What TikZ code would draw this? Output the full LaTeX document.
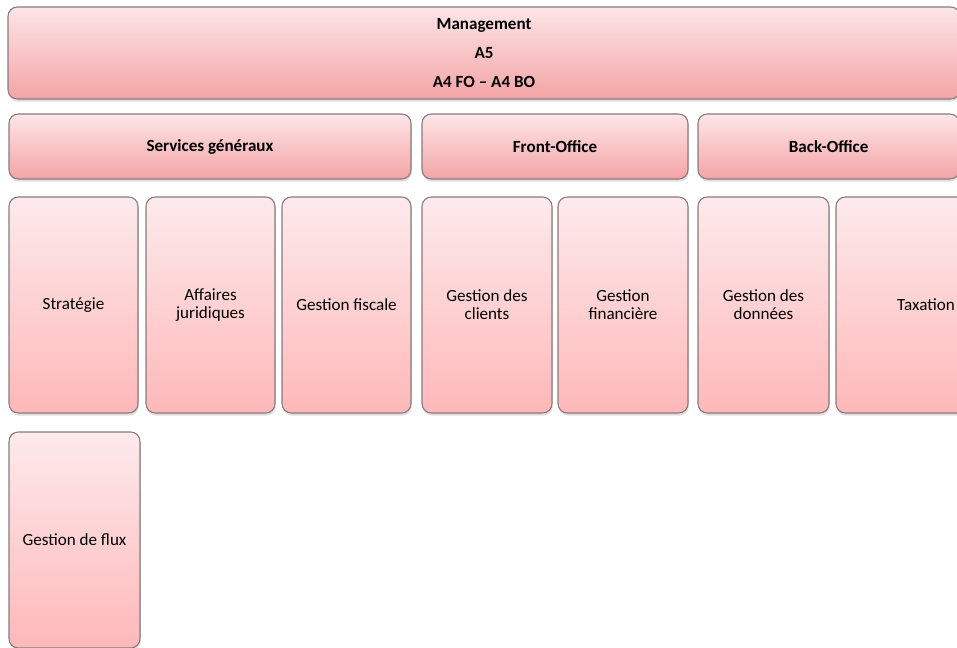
\documentclass[tikz,border=0pt]{standalone}
\usepackage{fontspec}
\setmainfont{Carlito}
\usetikzlibrary{positioning,shadows}
\definecolor{pinktop}{RGB}{253,229,231}
\definecolor{pinkbot}{RGB}{244,164,166}
\definecolor{tasktop}{RGB}{253,234,236}
\definecolor{taskbot}{RGB}{254,184,185}
\definecolor{rimgray}{RGB}{138,122,124}
\tikzset{
  unit/.style={draw=rimgray, line width=0.8pt, rounded corners=7pt, outer sep=0pt,
    top color=pinktop, bottom color=pinkbot,
    drop shadow={opacity=0.25, shadow xshift=0.6pt, shadow yshift=-2pt},
    align=center, inner sep=2pt, font=\fontsize{12.8}{13.5}\selectfont},
  head/.style={unit, font=\fontsize{12.8}{13.5}\selectfont\bfseries, minimum height=48.75pt},
  task/.style={unit, top color=tasktop, bottom color=taskbot, minimum height=162pt}
}
\begin{document}
\begin{tikzpicture}
  \path[use as bounding box, clip] (0,0) rectangle (717.75pt,-486pt);
  \node(mgmt)[unit, font=\fontsize{12.8}{13.5}\selectfont\bfseries, anchor=north west,
    minimum width=714pt, minimum height=69pt] at (6pt,-5.25pt)
    {Management\\[8.5pt]A5\\[8.5pt]A4 FO -- A4 BO};
  \node(serv)[head, anchor=north west, minimum width=301.5pt] at (6.75pt,-85.5pt) {Services généraux};
  \node(front)[head, right=8.25pt of serv, minimum width=199.5pt] {Front-Office};
  \node(back)[head, right=7.5pt of front, minimum width=196pt] {Back-Office};
  \node(strat)[task, anchor=north west, minimum width=96.75pt] at (6.75pt,-147.75pt) {Stratégie};
  \node(jur)[task, right=6pt of strat, minimum width=96.75pt] {Affaires\\juridiques};
  \node(fisc)[task, right=5.25pt of jur, minimum width=96.75pt] {Gestion fiscale};
  \node(cli)[task, right=8.25pt of fisc, minimum width=97.5pt] {Gestion des\\clients};
  \node(fin)[task, right=4.5pt of cli, minimum width=97.5pt] {Gestion\\financière};
  \node(don)[task, right=7.5pt of fin, minimum width=98.25pt] {Gestion des\\données};
  \node(tax)[task, right=5.25pt of don, minimum width=135pt] {Taxation};
  \node(flux)[task, anchor=north west, minimum width=98.25pt] at (6.75pt,-324pt) {Gestion de flux};
\end{tikzpicture}
\end{document}
